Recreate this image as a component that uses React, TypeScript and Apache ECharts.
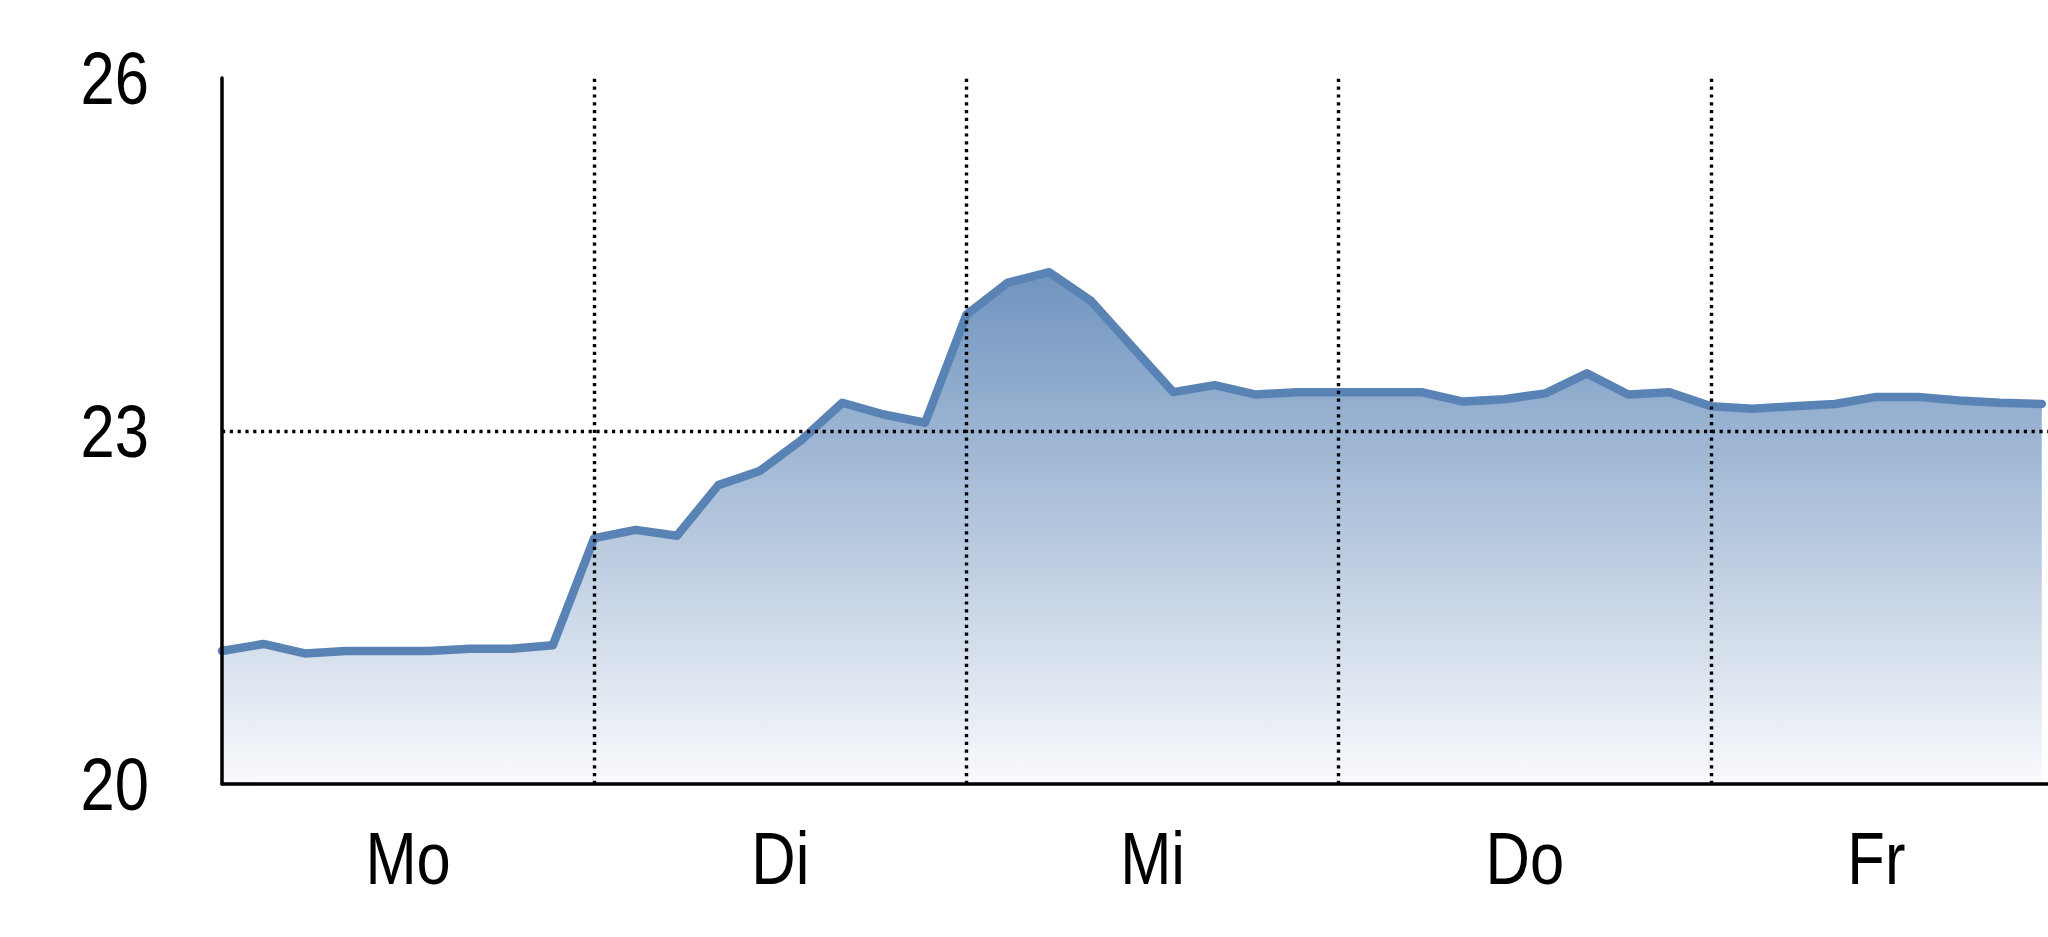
import React, { useEffect, useRef } from "react";
import * as echarts from "echarts";

const days = ["Mo", "Di", "Mi", "Do", "Fr"];
const dayStarts = [0, 9, 18, 27, 36];
const temps = [
  21.13, 21.19, 21.11, 21.13, 21.13, 21.13, 21.15, 21.15, 21.18,
  22.09, 22.16, 22.11, 22.54, 22.66, 22.92, 23.24, 23.14, 23.07,
  23.99, 24.26, 24.35, 24.11, 23.72, 23.33, 23.39, 23.31, 23.33,
  23.33, 23.33, 23.33, 23.25, 23.27, 23.32, 23.49, 23.31, 23.33,
  23.21, 23.19, 23.21, 23.23, 23.29, 23.29, 23.26, 23.24, 23.23,
];
const yTicks = [20, 23, 26];
const refLevel = 23;

export default function App() {
  const ref = useRef<HTMLDivElement>(null);
  useEffect(() => {
    const chart = echarts.init(ref.current!, null, { renderer: "svg" });
    const lastIdx = temps.length - 1;
    const bounds = [...dayStarts, lastIdx];
    const centers = days.map((_, i) => (bounds[i] + bounds[i + 1]) / 2);
    const font = "'Liberation Sans', Arial, sans-serif";
    const yMin = yTicks[0];
    const yMax = yTicks[yTicks.length - 1];
    chart.setOption({
      animation: false,
      backgroundColor: "#ffffff",
      grid: { left: 222, right: 0, top: 78, bottom: 153, containLabel: false },
      xAxis: {
        type: "value",
        min: 0,
        max: 44.15,
        z: 5,
        axisLine: { show: true, onZero: false, lineStyle: { color: "#000", width: 3.5 } },
        axisTick: { show: false },
        splitLine: { show: false },
        axisLabel: { show: false },
      },
      yAxis: {
        type: "value",
        min: yMin,
        max: yMax,
        interval: yTicks[1] - yTicks[0],
        z: 5,
        axisLine: { show: true, onZero: false, lineStyle: { color: "#000", width: 3.5 } },
        axisTick: { show: false },
        splitLine: { show: false },
        axisLabel: { show: false },
      },
      series: [
        {
          type: "line",
          data: temps.map((v, i) => [i, v]),
          showSymbol: false,
          symbol: "none",
          lineStyle: { color: "#5A83B5", width: 8.5, cap: "round", join: "round" },
          areaStyle: {
            opacity: 1,
            color: new echarts.graphic.LinearGradient(0, 0, 0, 1, [
              { offset: 0, color: "#7094BF" },
              { offset: 1, color: "#F9FAFC" },
            ]),
          },
          markLine: {
            silent: true,
            symbol: ["none", "none"],
            label: { show: false },
            emphasis: { disabled: true },
            lineStyle: { color: "#000", width: 3.4, type: [3.2, 4.6] },
            data: [
              ...dayStarts.slice(1).map((x) => ({ xAxis: x })),
              { yAxis: refLevel },
            ],
          },
        },
      ],
    });

    const toPx = (x: number, y: number) =>
      chart.convertToPixel({ gridIndex: 0 }, [x, y]) as number[];
    const graphics: any[] = [];
    days.forEach((d, i) => {
      const [px, py] = toPx(centers[i], yMin);
      graphics.push({
        type: "text",
        x: px,
        y: py + 37,
        scaleX: 0.82,
        style: {
          text: d,
          fontSize: 75,
          fontFamily: font,
          fill: "#000",
          align: "center",
          verticalAlign: "top",
        },
      });
    });
    yTicks.forEach((t) => {
      const [px, py] = toPx(0, t);
      graphics.push({
        type: "text",
        x: px - 73,
        y: py,
        scaleX: 0.82,
        style: {
          text: String(t),
          fontSize: 75,
          fontFamily: font,
          fill: "#000",
          align: "right",
          verticalAlign: "middle",
        },
      });
    });
    chart.setOption({ graphic: graphics });

    return () => chart.dispose();
  }, []);
  return (
    <div
      ref={ref}
      style={{ position: "fixed", left: 0, top: 0, width: 2048, height: 937 }}
    />
  );
}
